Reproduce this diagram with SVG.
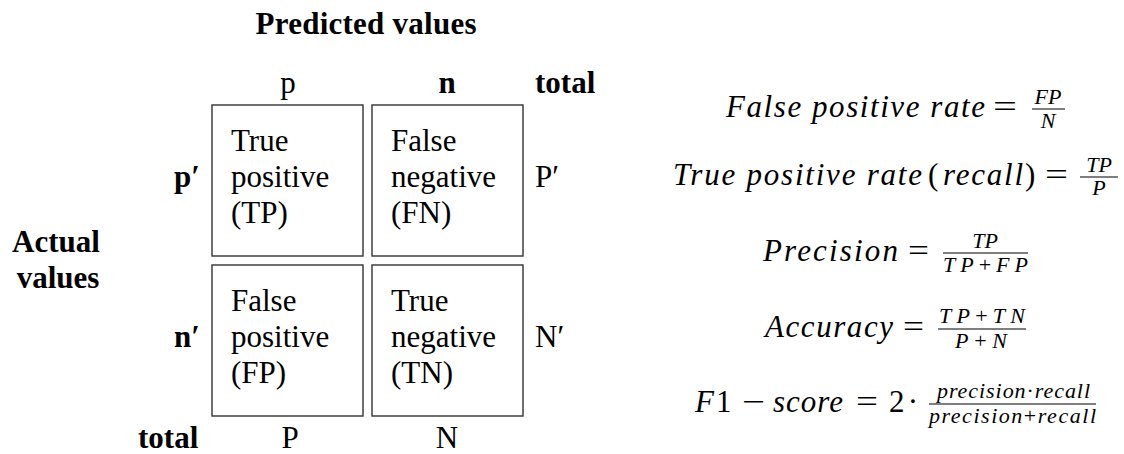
<svg xmlns="http://www.w3.org/2000/svg" width="1124" height="454" viewBox="0 0 1124 454">
<style>
text{font-family:"Liberation Serif","Times New Roman",serif;fill:#000}
.b{font-weight:bold;font-size:31px}
.r{font-size:31px}
.m{font-style:italic;font-size:31px}
.mu{font-style:normal;font-size:31px}
.s{font-style:italic;font-size:22px}
.su{font-style:normal}
.box{fill:#fff;stroke:#333;stroke-width:1.4}
.bar{stroke:#000;stroke-width:1.2}
</style>
<rect width="1124" height="454" fill="#fff"/>
<g id="headers">
<text class="b" x="366" y="34" text-anchor="middle" textLength="221">Predicted values</text>
<text class="r" x="288" y="93" text-anchor="middle">p</text>
<text class="b" x="447" y="93" text-anchor="middle">n</text>
<text class="b" x="535" y="93">total</text>
<text class="b" x="56" y="252" text-anchor="middle">Actual</text>
<text class="b" x="58" y="288" text-anchor="middle">values</text>
<text class="b" x="200" y="187" text-anchor="end">p′</text>
<text class="b" x="200" y="347" text-anchor="end">n′</text>
<text class="r" x="535" y="187">P′</text>
<text class="r" x="535" y="347">N′</text>
<text class="b" x="138" y="448">total</text>
<text class="r" x="290" y="448" text-anchor="middle">P</text>
<text class="r" x="447" y="448" text-anchor="middle">N</text>
</g>
<g id="tp">
<rect class="box" x="212" y="105" width="151" height="151"/>
<text class="r" x="231" y="151">True</text>
<text class="r" x="231" y="187">positive</text>
<text class="r" x="231" y="223">(TP)</text>
</g>
<g id="fn">
<rect class="box" x="372" y="105" width="151" height="151"/>
<text class="r" x="391" y="151">False</text>
<text class="r" x="391" y="187">negative</text>
<text class="r" x="391" y="223">(FN)</text>
</g>
<g id="fp">
<rect class="box" x="212" y="265" width="151" height="151"/>
<text class="r" x="231" y="311">False</text>
<text class="r" x="231" y="347">positive</text>
<text class="r" x="231" y="383">(FP)</text>
</g>
<g id="tn">
<rect class="box" x="372" y="265" width="151" height="151"/>
<text class="r" x="391" y="311">True</text>
<text class="r" x="391" y="347">negative</text>
<text class="r" x="391" y="383">(TN)</text>
</g>
<g id="connectors"/>
<g id="f-fpr">
<text class="m" x="726" y="117" textLength="259">False positive rate</text>
<text class="mu" x="993" y="117" textLength="24" lengthAdjust="spacingAndGlyphs">=</text>
<text class="s" x="1048" y="104" text-anchor="middle">FP</text>
<line class="bar" x1="1032" y1="109" x2="1065" y2="109"/>
<text class="s" x="1048" y="128" text-anchor="middle">N</text>
</g>
<g id="f-tpr">
<text class="m" x="673" y="185" textLength="249">True positive rate</text>
<text class="mu" x="928" y="185">(</text>
<text class="m" x="943" y="185" textLength="80">recall</text>
<text class="mu" x="1025" y="185">)</text>
<text class="mu" x="1045" y="185" textLength="23" lengthAdjust="spacingAndGlyphs">=</text>
<text class="s" x="1099" y="172" text-anchor="middle">TP</text>
<line class="bar" x1="1080" y1="177" x2="1118" y2="177"/>
<text class="s" x="1099" y="195" text-anchor="middle">P</text>
</g>
<g id="f-prec">
<text class="m" x="763" y="261" textLength="135">Precision</text>
<text class="mu" x="908" y="261" textLength="21" lengthAdjust="spacingAndGlyphs">=</text>
<text class="s" x="985" y="248" text-anchor="middle">TP</text>
<line class="bar" x1="943" y1="253" x2="1028" y2="253"/>
<text class="s" x="943" y="272" textLength="85">TP<tspan class="su">+</tspan>FP</text>
</g>
<g id="f-acc">
<text class="m" x="765" y="337" textLength="128">Accuracy</text>
<text class="mu" x="903" y="337" textLength="21" lengthAdjust="spacingAndGlyphs">=</text>
<text class="s" x="939" y="323" textLength="86">TP<tspan class="su">+</tspan>TN</text>
<line class="bar" x1="938" y1="329" x2="1026" y2="329"/>
<text class="s" x="955" y="348" textLength="52">P<tspan class="su">+</tspan>N</text>
</g>
<g id="f-f1">
<text class="m" x="695" y="412">F</text>
<text class="mu" x="716" y="412">1</text>
<text class="mu" x="742" y="412" textLength="23" lengthAdjust="spacingAndGlyphs">−</text>
<text class="m" x="773" y="412" textLength="70">score</text>
<text class="mu" x="856" y="412" textLength="22" lengthAdjust="spacingAndGlyphs">=</text>
<text class="mu" x="889" y="412">2</text>
<text class="mu" x="913" y="412" text-anchor="middle">·</text>
<text class="s" x="937" y="398" textLength="153">precision<tspan class="su">·</tspan>recall</text>
<line class="bar" x1="929" y1="404" x2="1096" y2="404"/>
<text class="s" x="929" y="423" textLength="167">precision<tspan class="su">+</tspan>recall</text>
</g>
</svg>
